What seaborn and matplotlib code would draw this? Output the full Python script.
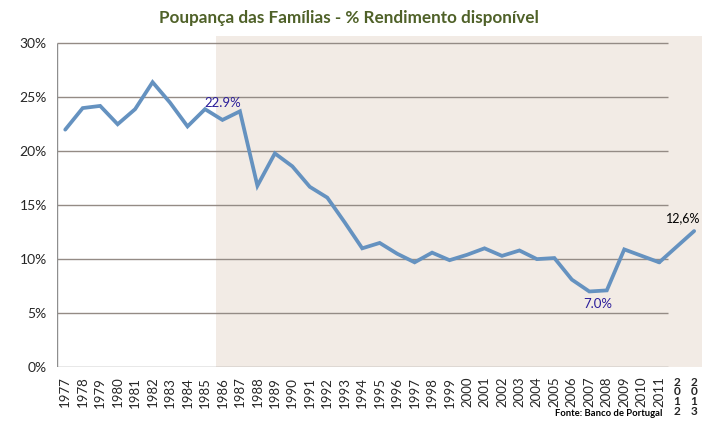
import numpy as np
import pandas as pd
import matplotlib
matplotlib.use("Agg")
import matplotlib.pyplot as plt
import seaborn as sns

# Dados (Banco de Portugal) - poupança das famílias em % do rendimento disponível
anos = list(range(1977, 2012))
poupanca = [22.0, 24.0, 24.2, 22.5, 23.9, 26.4, 24.5, 22.3, 23.9, 22.9,
            23.7, 16.8, 19.8, 18.6, 16.7, 15.7, 13.4, 11.0, 11.5, 10.5,
            9.7, 10.6, 9.9, 10.4, 11.0, 10.3, 10.8, 10.0, 10.1, 8.1,
            7.0, 7.1, 10.9, 10.3, 9.7]
anos_ext = [2011, 2013]
poupanca_ext = [9.7, 12.6]
anos_extra_labels = ["2012", "2013"]
y_ticks = [0, 5, 10, 15, 20, 25, 30]

ano_base = anos[0]
df = pd.DataFrame({"pos": [a - ano_base for a in anos], "valor": poupanca})
df_ext = pd.DataFrame({"pos": [a - ano_base for a in anos_ext], "valor": poupanca_ext})

sns.set_style("white")
plt.rcParams["font.family"] = ["Lato", "DejaVu Sans"]

fig = plt.figure(figsize=(7.02, 4.25), dpi=100)
ax = fig.add_axes([56.5 / 702, 1 - 367 / 425, 1 - 56.5 / 702, (367 - 36) / 425])

n = len(anos)
ax.set_xlim(-0.5, 36.45)
ax.set_ylim(0, 30.68)

# área sombreada
ax.axvspan(8.63, 36.45, ymin=0, ymax=1, color="#f2ebe5", zorder=0, lw=0)

# grelha
cinza = "#948b85"
ax.hlines(y_ticks[1:], -0.5, n - 0.5, color=cinza, lw=1.0, zorder=1)
ax.hlines(0, -0.5, n - 0.5, color="#8e8e8e", lw=1.0, zorder=1)
ax.vlines(-0.5, 0, 30, color="#8e8e8e", lw=1.0, zorder=1)

cor_linha = "#6592c0"
sns.lineplot(data=df, x="pos", y="valor", ax=ax, color=cor_linha, lw=2.7,
             zorder=3, solid_joinstyle="miter")
sns.lineplot(data=df_ext, x="pos", y="valor", ax=ax, color=cor_linha, lw=2.7,
             zorder=3)

for s in ax.spines.values():
    s.set_visible(False)

# eixo x
ax.set_xticks(list(range(n)) + [n, n + 1])
ax.set_xticklabels([str(a) for a in anos] + ["\n".join(l) for l in anos_extra_labels],
                   rotation=0, fontsize=9.5, va="top", linespacing=0.85)
for lbl in ax.get_xticklabels()[:n]:
    lbl.set_rotation(90)
ax.set_xticks(np.arange(-0.5, n, 1.0), minor=True)
ax.tick_params(axis="x", which="major", length=0, pad=7)
ax.tick_params(axis="x", which="minor", length=4, color="#8e8e8e", width=1, direction="out")
for lbl in ax.get_xticklabels()[n:]:
    lbl.set_fontweight("bold")
    lbl.set_fontsize(8.5)

# eixo y
ax.set_yticks(y_ticks)
ax.set_yticklabels([f"{v}%" for v in y_ticks], fontsize=10)
ax.tick_params(axis="y", length=4, color="#8e8e8e", width=1, direction="out", pad=3)
ax.set_xlabel("")
ax.set_ylabel("")

# anotações
ax.annotate("22.9%", (anos.index(1986), poupanca[anos.index(1986)]),
            xytext=(0, 8), textcoords="offset points", ha="center", va="bottom",
            fontsize=9.5, color="#2b1d9a")
ax.annotate("7.0%", (anos.index(2007), poupanca[anos.index(2007)]),
            xytext=(6, -5), textcoords="offset points", ha="center", va="top",
            fontsize=9.5, color="#2b1d9a")
ax.annotate("12,6%", (anos_ext[1] - ano_base, poupanca_ext[1]),
            xytext=(-8, 5), textcoords="offset points", ha="center", va="bottom",
            fontsize=9, color="black")

fig.text(0.497, 1 - 18 / 425, "Poupança das Famílias - % Rendimento disponível",
         ha="center", va="center", fontsize=12.3, fontweight="bold", color="#4f6128")
fig.text(662 / 702, 1 - 414 / 425, "Fonte: Banco de Portugal", ha="right", va="center",
         fontsize=6.8, fontweight="bold", color="black")

fig.savefig("out.png", dpi=100)
